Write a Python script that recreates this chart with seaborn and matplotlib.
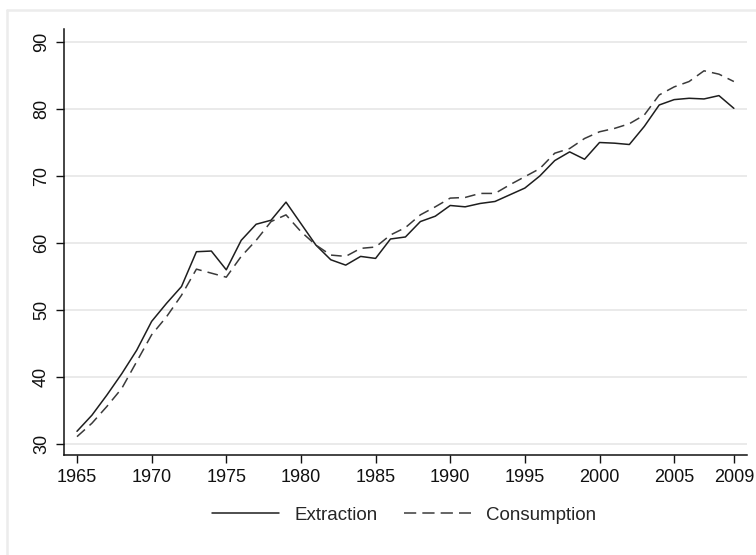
import numpy as np
import pandas as pd
import matplotlib
matplotlib.use("Agg")
import matplotlib.pyplot as plt
from matplotlib.lines import Line2D
import seaborn as sns

years = list(range(1965, 2010))
extraction = [31.9, 34.3, 37.3, 40.5, 44.0, 48.3, 51.0, 53.5, 58.7, 58.8,
              56.0, 60.4, 62.8, 63.4, 66.1, 62.9, 59.7, 57.5, 56.7, 58.0,
              57.7, 60.6, 60.9, 63.2, 64.0, 65.6, 65.4, 65.9, 66.2, 67.2,
              68.2, 70.0, 72.3, 73.6, 72.5, 75.0, 74.9, 74.7, 77.4, 80.6,
              81.4, 81.6, 81.5, 82.0, 80.1]
consumption = [31.1, 33.1, 35.6, 38.3, 42.3, 46.3, 49.0, 52.2, 56.1, 55.5,
               54.9, 58.0, 60.4, 63.2, 64.2, 61.7, 59.7, 58.2, 58.0, 59.2,
               59.4, 61.2, 62.3, 64.2, 65.4, 66.7, 66.8, 67.4, 67.4, 68.7,
               69.9, 71.1, 73.4, 74.1, 75.6, 76.6, 77.1, 77.8, 79.1, 82.1,
               83.3, 84.1, 85.7, 85.2, 84.1]
series_names = ["Extraction", "Consumption"]
x_ticks = [1965, 1970, 1975, 1980, 1985, 1990, 1995, 2000, 2005, 2009]
y_ticks = [30, 40, 50, 60, 70, 80, 90]

df = pd.DataFrame({
    "year": years * 2,
    "value": extraction + consumption,
    "series": [series_names[0]] * len(years) + [series_names[1]] * len(years),
})

sns.set_style("white")
FONT = ["Liberation Sans", "DejaVu Sans"]
plt.rcParams["font.family"] = FONT

fig = plt.figure(figsize=(7.56, 5.55), dpi=100)
ax = fig.add_axes([64 / 756, 1 - 455 / 555, (747 - 64) / 756, (455 - 29) / 555])

sns.lineplot(data=df, x="year", y="value", style="series", hue="series",
             palette={"Extraction": "#1e1e1e", "Consumption": "#3a3a3a"},
             dashes={"Extraction": "", "Consumption": (7, 4)},
             linewidth=1.1, ax=ax, legend=False)

ax.set_xlim(1964.13, 2009.88)
ax.set_ylim(28.36, 91.94)
ax.set_xticks(x_ticks)
ax.set_yticks(y_ticks)
ax.set_xticklabels([str(t) for t in x_ticks], fontsize=13)
ax.set_yticklabels([str(t) for t in y_ticks], fontsize=13, rotation=90,
                   va="center")
ax.set_xlabel("")
ax.set_ylabel("")
ax.grid(axis="y", color="#e6e6e6", linewidth=1.2)
ax.grid(axis="x", visible=False)
ax.set_axisbelow(True)
for s in ["top", "right"]:
    ax.spines[s].set_visible(False)
for s in ["left", "bottom"]:
    ax.spines[s].set_color("#111111")
    ax.spines[s].set_linewidth(1.1)
ax.tick_params(axis="both", direction="out", length=6, width=1.0,
               color="#111111", labelcolor="#111111", pad=4, left=True, bottom=True)

handles = [Line2D([], [], color="#1e1e1e", lw=1.1, ls="-"),
           Line2D([], [], color="#3a3a3a", lw=1.1, ls=(0, (8, 4)))]
fig.legend(handles, series_names, loc="center", ncol=2, frameon=False,
           bbox_to_anchor=(404 / 756, 1 - 515 / 555), fontsize=13.5,
           handlelength=3.6, columnspacing=1.4, handletextpad=0.8)

# light outer frame
fig.add_artist(Line2D([7 / 756, 1.0], [1 - 10 / 555, 1 - 10 / 555],
                      transform=fig.transFigure, color="#ececec", lw=1.8))
fig.add_artist(Line2D([7 / 756, 7 / 756], [0.0, 1 - 10 / 555],
                      transform=fig.transFigure, color="#ececec", lw=1.8))

fig.savefig("out.png", dpi=100)
